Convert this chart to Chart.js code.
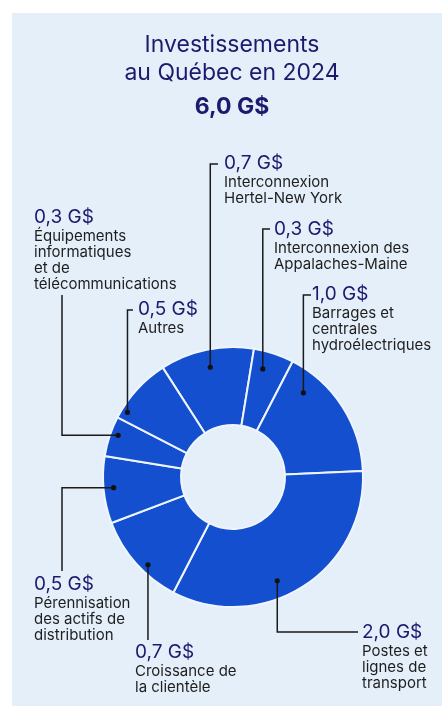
<!DOCTYPE html>
<html lang="fr">
<head>
<meta charset="utf-8">
<title>Investissements au Québec en 2024</title>
<script src="https://cdn.jsdelivr.net/npm/chart.js@4/dist/chart.umd.min.js"></script>
<style>
  html, body { margin: 0; padding: 0; background: #fff; }
  #wrap { position: relative; width: 442px; height: 706px; overflow: hidden; }
  #panel { position: absolute; left: 12px; top: 13px; right: 0; bottom: 0; background: #e4effa; }
  #chart { position: absolute; left: 0; top: 0; }
</style>
</head>
<body>
<div id="wrap">
  <div id="panel"></div>
  <canvas id="chart" width="442" height="706"></canvas>
</div>
<script>
// the data (G$)
const categories = [
  "Interconnexion Hertel-New York",
  "Interconnexion des Appalaches-Maine",
  "Barrages et centrales hydroélectriques",
  "Postes et lignes de transport",
  "Croissance de la clientèle",
  "Pérennisation des actifs de distribution",
  "Équipements informatiques et de télécommunications",
  "Autres"
];
const values = [0.7, 0.3, 1.0, 2.0, 0.7, 0.5, 0.3, 0.5];

// how each category name is broken into lines in the callouts
const label_lines = [
  ["Interconnexion", "Hertel-New York"],
  ["Interconnexion des", "Appalaches-Maine"],
  ["Barrages et", "centrales", "hydroélectriques"],
  ["Postes et", "lignes de", "transport"],
  ["Croissance de", "la clientèle"],
  ["Pérennisation", "des actifs de", "distribution"],
  ["Équipements", "informatiques", "et de", "télécommunications"],
  ["Autres"]
];

const title_lines = ["Investissements", "au Québec en 2024"];

// some colours
const NAVY = "#1d1a6e";
const TEXT = "#1e1e1e";
const BLUE = "#134fce";
const FONT = "Inter, 'Open Sans', sans-serif";

// callout layout, one per slice: where the dot sits in the slice (fraction of
// the slice's angle, fraction of the ring's thickness), how the leader line
// bends, and where the text goes. "v" = vertical first, "h" = horizontal first.
const callouts = [
  { frac: 0.50, rf: 0.77, route: "v", ex: 218, ey: 164, tx: 224, ty: 163 },
  { frac: 0.34, rf: 0.77, route: "v", ex: 270, ey: 229, tx: 274, ty: 229 },
  { frac: 0.21, rf: 0.74, route: "v", ex: 311, ey: 295, tx: 312, ty: 294 },
  { frac: 0.58, rf: 0.78, route: "v", ex: 358, ey: 632, tx: 362, ty: 632 },
  { frac: 0.40, rf: 0.90, route: "v", ex: null, ey: 640, tx: 135, ty: 652 },
  { frac: 0.52, rf: 0.87, route: "h", ex: 62, ey: 571, tx: 34, ty: 584 },
  { frac: 0.59, rf: 0.90, route: "h", ex: 62, ey: 295, tx: 34, ty: 217 },
  { frac: 0.14, rf: 0.92, route: "v", ex: 133, ey: 310, tx: 138, ty: 309 }
];

// 0.7 -> "0,7 G$"
function fmt(v) {
  return v.toFixed(1).replace(".", ",") + " G$";
}

// draws the title, the total and the callouts with their leader lines
const callout_plugin = {
  id: "callouts",
  afterDraw(chart) {
    const ctx = chart.ctx;
    const arcs = chart.getDatasetMeta(0).data;
    ctx.save();

    // title
    ctx.fillStyle = NAVY;
    ctx.textAlign = "center";
    ctx.textBaseline = "middle";
    ctx.font = "23px " + FONT;
    ctx.fillText(title_lines[0], 232, 45);
    ctx.fillText(title_lines[1], 232, 73);
    const total = values.reduce((a, b) => a + b, 0);
    ctx.font = "bold 23px " + FONT;
    ctx.fillText(fmt(total), 232, 107);

    arcs.forEach((arc, i) => {
      const c = callouts[i];
      const p = arc.getProps(["x", "y", "startAngle", "endAngle", "innerRadius", "outerRadius"], true);
      const a = p.startAngle + c.frac * (p.endAngle - p.startAngle);
      const r = p.innerRadius + c.rf * (p.outerRadius - p.innerRadius);
      const dx = p.x + r * Math.cos(a);
      const dy = p.y + r * Math.sin(a);

      // leader line
      ctx.strokeStyle = "#1a1a1a";
      ctx.lineWidth = 1.5;
      ctx.beginPath();
      ctx.moveTo(dx, dy);
      if (c.route === "v") {
        ctx.lineTo(dx, c.ey);
        if (c.ex !== null) ctx.lineTo(c.ex, c.ey);
      } else {
        ctx.lineTo(c.ex, dy);
        ctx.lineTo(c.ex, c.ey);
      }
      ctx.stroke();

      // dot
      ctx.fillStyle = "#111";
      ctx.beginPath();
      ctx.arc(dx, dy, 2.6, 0, Math.PI * 2);
      ctx.fill();

      // value + name
      ctx.textAlign = "left";
      ctx.textBaseline = "middle";
      ctx.fillStyle = NAVY;
      ctx.font = "19px " + FONT;
      ctx.fillText(fmt(values[i]), c.tx, c.ty);
      ctx.fillStyle = TEXT;
      ctx.font = "15px " + FONT;
      label_lines[i].forEach((line, j) => {
        ctx.fillText(line, c.tx, c.ty + 19 + j * 16.3);
      });
    });
    ctx.restore();
  }
};

const config = {
  type: "doughnut",
  data: {
    labels: categories,
    datasets: [{
      data: values,
      backgroundColor: BLUE,
      borderColor: "#eef5fc",
      borderWidth: 2,
      hoverOffset: 0
    }]
  },
  options: {
    responsive: false,
    animation: false,
    events: [],
    rotation: -32.7,
    radius: 130,
    cutout: "40%",
    layout: { padding: { left: 24, top: 248, right: 0, bottom: 0 } },
    plugins: {
      legend: { display: false },
      tooltip: { enabled: false },
      title: { display: false }
    }
  },
  plugins: [callout_plugin]
};

new Chart(document.getElementById("chart").getContext("2d"), config);
</script>
</body>
</html>
